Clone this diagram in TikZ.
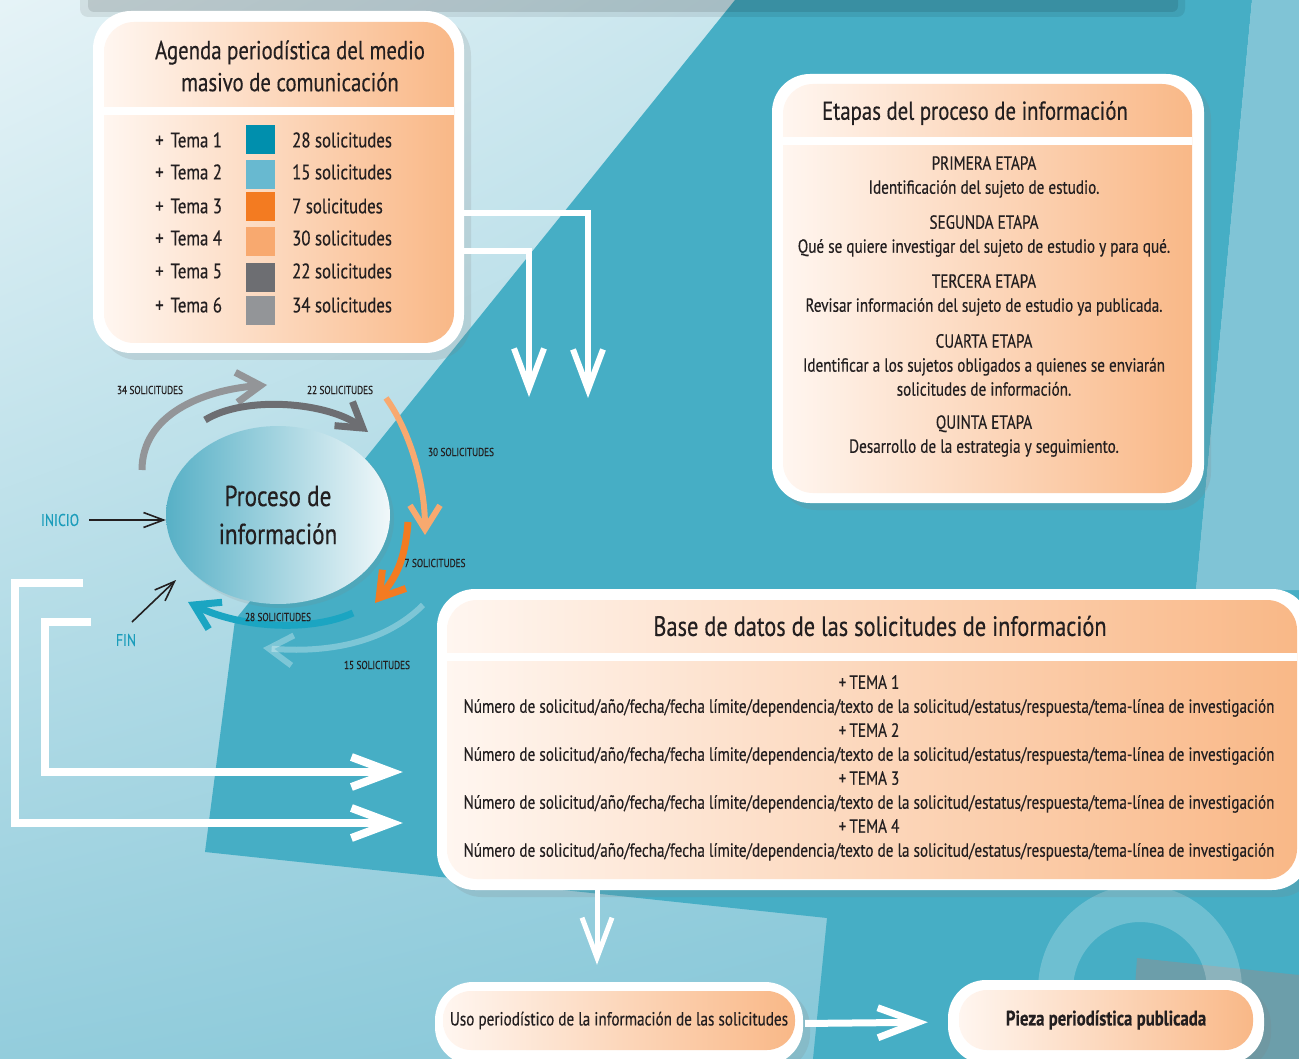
\documentclass[tikz,border=0pt]{standalone}
\usepackage{fontspec}
\setmainfont{PT Sans}[FakeStretch=0.8, FakeBold=0.4]
\usetikzlibrary{arrows.meta,positioning,shapes.geometric,shadows,shadings}
\definecolor{ink}{HTML}{231F20}
\definecolor{peachL}{HTML}{FFF6F0}
\definecolor{peachR}{HTML}{F9B887}
\definecolor{tealbg}{HTML}{46AEC5}
\definecolor{tealsoft}{HTML}{80C4D6}
\definecolor{tealgray}{HTML}{6C9EAA}
\definecolor{tema1}{HTML}{008FAD}
\definecolor{tema2}{HTML}{68B9D0}
\definecolor{tema3}{HTML}{F37B21}
\definecolor{tema4}{HTML}{F8A96F}
\definecolor{tema5}{HTML}{6D6E72}
\definecolor{tema6}{HTML}{939598}
\definecolor{inicioc}{HTML}{1C9DBB}
\definecolor{cyc28}{HTML}{1BA5C2}
\definecolor{procL}{HTML}{57B0C6}
\definecolor{procR}{HTML}{F1F8FA}
\newcommand\fsTitle{\fontsize{26}{32}\selectfont}
\newcommand\fsBody{\fontsize{19}{24}\selectfont}
\newcommand\fsTema{\fontsize{21}{24}\selectfont}
\newcommand\fsSmall{\fontsize{11.5}{12}\selectfont}

\begin{document}
\begin{tikzpicture}[x=1pt, y=-1pt, >={Straight Barb[length=40pt,width=30pt]},
  outerbox/.style={fill=white, rounded corners=38pt, inner sep=0pt,
    drop shadow={shadow xshift=7pt, shadow yshift=-7pt, opacity=0.18}},
  innerbox/.style={left color=peachL, right color=peachR, rounded corners=30pt, inner sep=0pt},
  txt/.style={text=ink, inner sep=0pt, align=center},
  lbl/.style={text=ink, inner sep=0pt, font=\fsSmall},
  warr/.style={white, line width=7pt, ->},
  cyc/.style={line width=7pt, -{Straight Barb[length=24pt,width=30pt]}},
  blk/.style={ink, line width=1.6pt, -{Straight Barb[length=20pt,width=15pt]}}]
  \useasboundingbox (0,0) rectangle (1299,1059);
  \clip (0,0) rectangle (1299,1059);
  % fondo
  \shade[upper left=white!80!tealsoft, upper right=tealsoft!60!white, lower left=tealsoft!85!white, lower right=tealsoft] (0,0) rectangle (1299,1059);
  \fill[tealbg] (735,0) -- (1252,0) -- (1196,590) -- (1299,590) -- (1299,1059) -- (813,1059)
    -- (827,918) -- (205,852) -- (235,620) -- cycle;
  \fill[tealsoft] (1252,0) -- (1299,0) -- (1299,590) -- (1196,590) -- cycle;
  \fill[tealgray] (1137,958) -- (1299,975) -- (1299,1059) -- (1130,1059) -- cycle;
  \fill[white, opacity=0.22, even odd rule] (1140,990) ellipse (102 and 105) (1140,990) ellipse (67 and 68);
  \fill[black, opacity=0.08, rounded corners=8pt] (80,-10) rectangle (1185,17);
  \fill[black, opacity=0.1, rounded corners=6pt] (88,-10) rectangle (1178,12);

  % agenda
  \node[outerbox, minimum width=371pt, minimum height=342pt] (agenda) at (278.5,182) {};
  \node[innerbox, minimum width=350pt, minimum height=321pt] (agendain) at (279,182.5) {};
  \fill[white] (agendain.west |- 0,107) rectangle (agendain.east |- 0,115);
  \node[txt, font=\fsTitle] (agendatit) at (290,66) {Agenda periodística del medio\\masivo de comunicación};
  \foreach \n/\y/\sy/\s in {1/140/140/28, 2/172/175/15, 3/206/207/7, 4/238/242/30, 5/271/278/22, 6/305/311/34} {
    \node[txt, font=\fsTema, anchor=west] (tema\n) at (155,\y) {+\,\,Tema \n};
    \node[fill=tema\n, minimum size=29pt, inner sep=0pt] (sq\n) at (260.5,\sy) {};
    \node[txt, font=\fsTema, anchor=west] (sol\n) at (292,\y) {\s{} solicitudes};
  }

  % etapas
  \node[outerbox, minimum width=432pt, minimum height=429pt] (etapas) at (988,288.5) {};
  \node[innerbox, minimum width=409pt, minimum height=409pt] (etapasin) at (987.5,288.5) {};
  \fill[white] (etapasin.west |- 0,137) rectangle (etapasin.east |- 0,145);
  \node[txt, font=\fsTitle] (etapastit) at (975,113) {Etapas del proceso de información};
  \node[txt, font=\fsBody] (et1) at (984,177) {PRIMERA ETAPA\\Identificación del sujeto de estudio.};
  \node[txt, font=\fsBody] (et2) at (984,236) {SEGUNDA ETAPA\\Qué se quiere investigar del sujeto de estudio y para qué.};
  \node[txt, font=\fsBody] (et3) at (984,295) {TERCERA ETAPA\\Revisar información del sujeto de estudio ya publicada.};
  \node[txt, font=\fsBody] (et4) at (984,365) {CUARTA ETAPA\\Identificar a los sujetos obligados a quienes se enviarán\\solicitudes de información.};
  \node[txt, font=\fsBody] (et5) at (984,436) {QUINTA ETAPA\\Desarrollo de la estrategia y seguimiento.};

  % base de datos
  \node[outerbox, minimum width=873pt, minimum height=301pt] (base) at (873.5,739.5) {};
  \node[innerbox, minimum width=850pt, minimum height=279pt] (basein) at (872,739.5) {};
  \fill[white] (basein.west |- 0,653) rectangle (basein.east |- 0,661);
  \node[txt, font=\fontsize{28}{32}\selectfont] (basetit) at (880,626) {Base de datos de las solicitudes de información};
  \foreach \n/\y in {1/696, 2/744, 3/792, 4/840}
    \node[txt, font=\fsBody] (dbtema\n) at (869,\y) {+\,TEMA \n\\Número de solicitud/año/fecha/fecha límite/dependencia/texto de la solicitud/estatus/respuesta/tema-línea de investigación};

  % uso y pieza
  \node[outerbox, minimum width=368pt, minimum height=83pt] (uso) at (619,1023.5) {};
  \node[innerbox, minimum width=352pt, minimum height=59pt, rounded corners=28pt, text=ink, font=\fsBody] (usoin) at (619,1020.5) {Uso periodístico de la información de las solicitudes};
  \node[outerbox, minimum width=316pt, minimum height=84pt] (pieza) at (1106,1022) {};
  \node[innerbox, minimum width=294pt, minimum height=60pt, rounded corners=28pt, text=ink, font=\fontsize{21}{24}\selectfont\bfseries] (piezain) at (1106,1020) {Pieza periodística publicada};

  % proceso
  \node[ellipse, minimum width=224pt, minimum height=178pt, left color=procL, right color=procR,
    drop shadow={shadow xshift=4pt, shadow yshift=-4pt, opacity=0.15},
    txt, font=\fontsize{29}{38}\selectfont] (proc) at (278,515) {Proceso de\\información};
  \node[txt, text=inicioc, font=\fontsize{17}{18}\selectfont] (inicio) at (60,520) {INICIO};
  \node[txt, text=inicioc, font=\fontsize{17}{18}\selectfont] (fin) at (126,640) {FIN};
  \draw[blk] (inicio.east) ++(10,0) -- (inicio.east -| proc.west);
  \coordinate (finstart) at (132,622);
  \draw[blk] (finstart) -- (176,580);

  % ciclo
  \coordinate (c34a) at (142,470);  \coordinate (c34b) at (267,385);
  \coordinate (c22a) at (205,420);  \coordinate (c22b) at (368,432);
  \coordinate (c30a) at (386,398);  \coordinate (c30b) at (425,535);
  \coordinate (c7a) at (408,522);   \coordinate (c7b) at (375,603);
  \coordinate (c28a) at (353,613);  \coordinate (c28b) at (188,602);
  \coordinate (c15a) at (423,605);  \coordinate (c15b) at (263,648);
  \draw[cyc, tema6] (c34a) .. controls +(0,-55) and +(-65,5) .. (c34b);
  \draw[cyc, tema5] (c22a) .. controls +(40,-25) and +(-40,-30) .. (c22b);
  \draw[cyc, tema4, line width=6pt] (c30a) .. controls +(25,35) and +(0,-50) .. (c30b);
  \draw[cyc, tema3] (c7a) .. controls +(-3,40) and +(20,-25) .. (c7b);
  \draw[cyc, cyc28] (c28a) .. controls +(-45,20) and +(50,25) .. (c28b);
  \draw[cyc, white, opacity=0.3, line width=6pt] (c15a) .. controls +(-40,40) and +(60,5) .. (c15b);
  \node[lbl] (lbl34) at (150,390) {34 SOLICITUDES};
  \node[lbl] (lbl22) at (340,390) {22 SOLICITUDES};
  \node[lbl] (lbl30) at (461,452) {30 SOLICITUDES};
  \node[lbl] (lbl7) at (435,563) {7 SOLICITUDES};
  \node[lbl] (lbl28) at (278,617) {28 SOLICITUDES};
  \node[lbl] (lbl15) at (377,665) {15 SOLICITUDES};

  % conectores blancos
  \coordinate (t1) at (588,398);
  \coordinate (t2) at (529,397);
  \draw[warr, line width=6pt] (agenda.east |- 0,213) -| (t1);
  \draw[warr, line width=6pt] (agenda.east |- 0,251) -| (t2);
  \coordinate (l1) at (83,583);
  \coordinate (l2) at (91,622);
  \draw[warr, line width=8pt, shorten >=34pt] (l1) -| (15,823) -- (base.west |- 0,823);
  \draw[warr, line width=8pt, shorten >=34pt] (l2) -| (45,772) -- (base.west |- 0,772);
  \draw[warr, line width=5pt, shorten >=17pt] (base.south -| 597,0) -- (uso.north -| 597,0);
  \draw[warr, shorten >=20pt, shorten <=2pt] (uso.east) -- (pieza.west);
\end{tikzpicture}
\end{document}
